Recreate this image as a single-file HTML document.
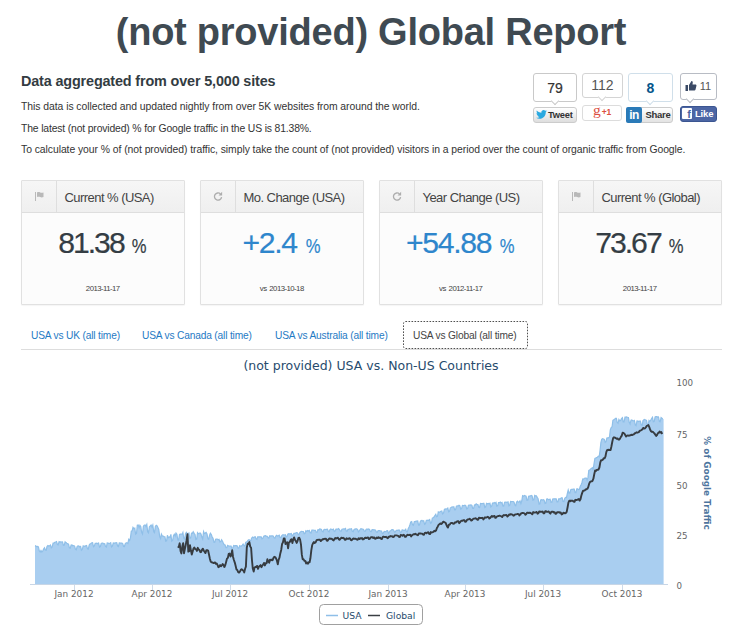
<!DOCTYPE html>
<html><head><meta charset="utf-8"><title>(not provided) Global Report</title>
<style>
*{box-sizing:border-box;margin:0;padding:0}
html,body{width:738px;height:634px;background:#fff;overflow:hidden}
body{position:relative;font-family:"Liberation Sans",Arial,sans-serif;color:#333}
.abs{position:absolute}
h1{position:absolute;left:0;width:742px;top:5px;text-align:center;font-size:38px;font-weight:bold;color:#3f4a52;letter-spacing:-0.24px;line-height:54px;white-space:nowrap}
h2{position:absolute;left:21px;top:71px;font-size:14.4px;font-weight:bold;color:#333c42;line-height:20px;letter-spacing:-0.15px;white-space:nowrap}
p{position:absolute;left:21px;font-size:10.4px;line-height:14px;color:#333;white-space:nowrap;letter-spacing:-0.05px}
.cnt{position:absolute;border:1px solid #c9c9c9;border-radius:3px;background:#fff;text-align:center;color:#333}
.nub{position:absolute;width:6px;height:6px;background:#fff;border-right:1px solid #c9c9c9;border-bottom:1px solid #c9c9c9;transform:rotate(45deg)}
.btn{position:absolute;border-radius:3px;white-space:nowrap}
.card{position:absolute;top:179.5px;width:163.5px;height:125px;border:1px solid #e1e1e1;box-shadow:0 1px 1px rgba(0,0,0,0.04);background:#fcfcfc;border-radius:1px}
.card .hd{position:absolute;left:0;top:0;right:0;height:32px;background:linear-gradient(#f6f6f6,#efefef);border-bottom:1px solid #dedede}
.card .ic{position:absolute;left:0;top:0;width:35px;height:31px;border-right:1px solid #dedede}
.card .tt{position:absolute;left:42.5px;top:9.5px;font-size:13px;color:#444;white-space:nowrap;line-height:16px;letter-spacing:-0.55px}
.card .num{position:absolute;left:0;right:0;top:44px;text-align:center;font-size:30.2px;line-height:36px;color:#343d44;letter-spacing:-2px;-webkit-text-stroke:0.2px currentColor;white-space:nowrap}
.card .num small{font-size:20.5px;letter-spacing:0;display:inline-block;transform:scaleX(0.81);transform-origin:50% 50%;margin-left:0px;margin-right:-1px}
.card .num.b{color:#2e86cc;letter-spacing:-1.3px}
.card .dt{position:absolute;left:0;right:0;top:103.3px;text-align:center;font-size:7.8px;color:#444;line-height:10px;letter-spacing:-0.55px}
.tab{position:absolute;top:328.5px;font-size:10.2px;color:#1f7ac4;line-height:14px;white-space:nowrap;letter-spacing:-0.17px}
</style></head><body>
<h1>(not provided) Global Report</h1>
<h2>Data aggregated from over 5,000 sites</h2>
<p style="top:100px">This data is collected and updated nightly from over 5K websites from around the world.</p>
<p style="top:121.5px;letter-spacing:-0.16px">The latest (not provided) % for Google traffic in the US is 81.38%.</p>
<p style="top:142.5px;letter-spacing:-0.06px">To calculate your % of (not provided) traffic, simply take the count of (not provided) visitors in a period over the count of organic traffic from Google.</p>

<!-- social -->
<div class="cnt" style="left:533px;top:73px;width:44px;height:29px;font-size:14px;line-height:28px;-webkit-text-stroke:0.2px #333">79</div>
<div class="nub" style="left:552px;top:98px"></div>
<div class="btn" style="left:533px;top:107px;width:44px;height:16px;border:1px solid #ccc;background:linear-gradient(#fff,#dedede);font-size:9.3px;font-weight:bold;color:#333;line-height:14.5px;padding-left:14px;letter-spacing:-0.2px">Tweet</div>
<svg class="abs" style="left:536px;top:110px" width="11" height="9" viewBox="0 0 24 20"><path fill="#2aa9e0" d="M24 2.4c-.9.4-1.8.7-2.8.8 1-.6 1.800-1.600 2.200-2.700-1 .6-2 1-3.100 1.200C19.400.7 18.100 0 16.600 0c-2.700 0-4.900 2.200-4.900 4.900 0 .4 0 .8.100 1.100C7.700 5.800 4.100 3.800 1.700.9 1.200 1.600 1 2.500 1 3.400c0 1.700.9 3.200 2.200 4.100-.8 0-1.600-.2-2.200-.6v.1c0 2.400 1.700 4.400 3.900 4.800-.4.100-.8.200-1.300.2-.3 0-.6 0-.9-.1.600 2 2.400 3.400 4.600 3.400-1.700 1.300-3.800 2.100-6.100 2.100-.4 0-.8 0-1.200-.1 2.200 1.400 4.800 2.200 7.500 2.200 9.100 0 14-7.500 14-14v-.6c1-.7 1.800-1.600 2.500-2.500z"/></svg>

<div class="cnt" style="left:582px;top:73px;width:41px;height:25px;font-size:14px;line-height:23px;color:#555;border-color:#d4d4d4">112</div>
<div class="nub" style="left:599px;top:94px;border-color:#d4d4d4"></div>
<div class="btn" style="left:582px;top:105px;width:40px;height:16px;border:1px solid #dcdcdc;background:#fff;color:#dc4e41;line-height:13px;text-align:center;white-space:nowrap;overflow:hidden"><span style="font-family:'Liberation Serif',serif;font-size:15.5px;line-height:11px;position:relative;top:-3px">g</span><span style="font-size:8.500px;font-weight:bold;position:relative;top:-3px;margin-left:1px;letter-spacing:-0.2px">+1</span></div>

<div class="cnt" style="left:628px;top:73px;width:45px;height:29px;font-size:14px;line-height:28px;color:#04558b;font-weight:bold;border-color:#d0dfea">8</div>
<div class="nub" style="left:647px;top:98px;border-color:#d0dfea"></div>
<div class="btn" style="left:626px;top:107px;width:47px;height:16px;border:1px solid #ccc;background:linear-gradient(#fff,#e3e3e3);font-size:9.5px;font-weight:bold;color:#333;line-height:14.5px;padding-left:18.5px;letter-spacing:-0.3px">Share</div>
<div class="abs" style="left:626px;top:107px;width:16px;height:16px;background:#2a7ab8;border-radius:2px;color:#fff;font-weight:bold;font-size:12px;line-height:16px;text-align:center;letter-spacing:-0.5px">in</div>

<div class="cnt" style="left:680px;top:73px;width:37px;height:27px;font-size:11px;line-height:24px;color:#555;border-color:#b8bcc4;padding-left:14px">11</div>
<div class="nub" style="left:687px;top:96px;border-color:#b8bcc4"></div>
<svg class="abs" style="left:684.500px;top:79.500px" width="12" height="12" viewBox="0 0 24 24"><path fill="#3b4a66" d="M1 10h5v12H1zM8 21V10l5-8c1.500 0 2.800 1.200 2.500 3L15 9h6c1.300 0 2.200 1.200 1.900 2.500l-2 8c-.3.900-1 1.500-2 1.500H8z"/></svg>
<div class="btn" style="left:680px;top:106px;width:37px;height:16px;background:#4c66a4;border:1px solid #3b5591;font-size:9.5px;font-weight:bold;color:#fff;line-height:14px;padding-left:14px;letter-spacing:-0.2px">Like</div>
<div class="abs" style="left:682px;top:108px;width:10px;height:11px;background:#fff;border-radius:1px;color:#4c66a4;font-weight:bold;font-size:11px;line-height:13px;text-align:right;padding-right:1px;overflow:hidden">f</div>

<!-- cards -->
<div class="card" style="left:21px"><div class="hd"><div class="ic"><svg class="abs" style="left:13px;top:11.5px" width="9" height="9" viewBox="0 0 9 9"><path fill="#b9b9b9" d="M0 0h1v9H0zM2 0.500c1.200-.6 2.200-.4 3.200 0s2 .5 3.300-.1v4.600c-1.300.6-2.300.5-3.300.1s-2-.6-3.200 0z"/></svg></div><div class="tt">Current % (USA)</div></div><div class="num">81.38 <small>%</small></div><div class="dt">2013-11-17</div></div>
<div class="card" style="left:200px"><div class="hd"><div class="ic"><svg class="abs" style="left:12px;top:10px" width="10" height="11" viewBox="0 0 18 20"><path fill="none" stroke="#adadad" stroke-width="2.400" d="M15.500 11a6.500 6.500 0 1 1-2-5.700"/><path fill="#adadad" d="M16.500 1.500v6.500h-6.500z"/></svg></div><div class="tt">Mo. Change (USA)</div></div><div class="num b">+2.4 <small>%</small></div><div class="dt" style="word-spacing:1.2px">vs 2013-10-18</div></div>
<div class="card" style="left:379px"><div class="hd"><div class="ic"><svg class="abs" style="left:12px;top:10px" width="10" height="11" viewBox="0 0 18 20"><path fill="none" stroke="#adadad" stroke-width="2.400" d="M15.500 11a6.500 6.500 0 1 1-2-5.700"/><path fill="#adadad" d="M16.500 1.500v6.500h-6.500z"/></svg></div><div class="tt">Year Change (US)</div></div><div class="num b">+54.88 <small>%</small></div><div class="dt" style="word-spacing:1.2px">vs 2012-11-17</div></div>
<div class="card" style="left:558px"><div class="hd"><div class="ic"><svg class="abs" style="left:13px;top:11.5px" width="9" height="9" viewBox="0 0 9 9"><path fill="#b9b9b9" d="M0 0h1v9H0zM2 0.500c1.200-.6 2.200-.4 3.200 0s2 .5 3.300-.1v4.600c-1.300.6-2.300.5-3.300.1s-2-.6-3.200 0z"/></svg></div><div class="tt">Current % (Global)</div></div><div class="num">73.67 <small>%</small></div><div class="dt">2013-11-17</div></div>

<!-- tabs -->
<div class="tab" style="left:31px">USA vs UK (all time)</div>
<div class="tab" style="left:142px">USA vs Canada (all time)</div>
<div class="tab" style="left:275px">USA vs Australia (all time)</div>
<div class="abs" style="left:21px;top:349px;width:701px;height:1px;background:#ddd"></div>
<svg class="abs" style="left:403px;top:321px" width="125" height="28"><rect x="0.500" y="0.500" width="124" height="27" rx="2" fill="#fff" stroke="#505050" stroke-dasharray="1.600 1.400"/></svg>
<div class="tab" style="left:413px;color:#444">USA vs Global (all time)</div>

<!-- chart -->
<svg class="abs" style="left:0;top:350px" width="738" height="284" viewBox="0 350 738 284" font-family='"DejaVu Sans","Liberation Sans",sans-serif'>
<path d="M35.0 545.6 L35.9 546.0 L36.7 546.7 L37.6 546.5 L38.4 546.9 L39.3 551.0 L40.2 552.0 L41.0 550.5 L41.9 552.0 L42.7 551.2 L43.6 549.0 L44.5 547.8 L45.3 549.9 L46.2 550.2 L47.0 546.5 L47.9 545.5 L48.8 546.1 L49.6 545.7 L50.5 545.0 L51.3 547.8 L52.2 547.0 L53.1 543.1 L53.9 543.2 L54.8 542.3 L55.6 542.0 L56.5 541.6 L57.4 544.5 L58.2 544.9 L59.1 541.7 L59.9 542.1 L60.8 541.8 L61.7 542.0 L62.5 541.9 L63.4 545.4 L64.2 545.3 L65.1 541.8 L66.0 542.6 L66.8 543.2 L67.7 543.7 L68.5 544.2 L69.4 547.8 L70.3 548.2 L71.1 545.1 L72.0 545.0 L72.8 545.8 L73.7 545.6 L74.6 546.1 L75.4 549.1 L76.3 549.8 L77.1 546.5 L78.0 545.8 L78.9 546.1 L79.7 547.0 L80.6 546.5 L81.4 550.2 L82.3 549.5 L83.2 545.8 L84.0 546.2 L84.9 546.3 L85.7 545.7 L86.6 545.4 L87.5 548.8 L88.3 549.2 L89.2 545.1 L90.0 543.9 L90.9 543.5 L91.8 542.9 L92.6 542.7 L93.5 546.8 L94.3 546.2 L95.2 543.4 L96.1 543.3 L96.9 543.1 L97.8 543.7 L98.6 543.1 L99.5 547.0 L100.4 546.5 L101.2 543.5 L102.1 543.2 L102.9 543.2 L103.8 543.9 L104.7 543.7 L105.5 546.4 L106.4 547.0 L107.2 542.9 L108.1 543.1 L109.0 543.5 L109.8 543.3 L110.7 542.7 L111.5 546.9 L112.4 546.1 L113.3 542.9 L114.1 543.4 L115.0 542.9 L115.8 542.9 L116.7 542.7 L117.6 546.0 L118.4 546.5 L119.3 542.8 L120.1 543.2 L121.0 543.0 L121.9 543.1 L122.7 543.6 L123.6 546.4 L124.4 546.5 L125.3 543.5 L126.2 542.8 L127.0 542.8 L127.9 543.5 L128.7 539.3 L129.6 540.4 L130.5 537.6 L131.3 531.1 L132.2 530.7 L133.0 527.4 L133.9 528.6 L134.8 528.1 L135.6 534.2 L136.5 533.5 L137.3 525.3 L138.2 525.0 L139.1 527.6 L139.9 525.3 L140.8 526.7 L141.6 532.3 L142.5 534.0 L143.4 526.2 L144.2 525.2 L145.1 524.9 L145.9 526.4 L146.8 524.4 L147.7 531.9 L148.5 532.9 L149.4 526.7 L150.2 526.0 L151.1 525.1 L152.0 527.1 L152.8 525.1 L153.7 531.7 L154.5 532.6 L155.4 526.2 L156.3 525.2 L157.1 525.8 L158.0 527.7 L158.8 529.6 L159.7 536.6 L160.6 538.5 L161.4 534.1 L162.3 536.0 L163.1 536.1 L164.0 536.6 L164.9 536.7 L165.7 541.1 L166.6 540.8 L167.4 535.3 L168.3 537.7 L169.2 536.9 L170.0 537.4 L170.9 534.4 L171.7 541.2 L172.6 540.5 L173.5 535.7 L174.3 534.2 L175.2 536.0 L176.0 533.1 L176.9 534.3 L177.8 540.0 L178.6 540.3 L179.5 534.4 L180.3 534.1 L181.2 534.2 L182.1 534.4 L182.9 532.5 L183.8 538.6 L184.6 539.1 L185.5 533.7 L186.4 532.4 L187.2 533.5 L188.1 533.8 L188.9 533.0 L189.8 538.5 L190.7 537.8 L191.5 533.1 L192.4 533.3 L193.2 531.7 L194.1 533.4 L195.0 534.5 L195.8 539.5 L196.7 539.0 L197.5 532.7 L198.4 533.8 L199.3 533.3 L200.1 532.9 L201.0 534.1 L201.8 537.1 L202.7 539.1 L203.6 531.6 L204.4 533.4 L205.3 533.1 L206.1 532.5 L207.0 534.0 L207.9 538.9 L208.7 539.4 L209.6 535.2 L210.4 533.3 L211.3 534.5 L212.2 537.0 L213.0 538.2 L213.9 542.2 L214.7 542.3 L215.6 539.3 L216.5 539.2 L217.3 539.1 L218.2 539.7 L219.0 539.3 L219.9 542.0 L220.8 541.6 L221.6 539.8 L222.5 541.2 L223.3 543.0 L224.2 544.7 L225.1 544.9 L225.9 547.6 L226.8 547.6 L227.6 545.4 L228.5 545.9 L229.4 546.2 L230.2 546.2 L231.1 546.1 L231.9 548.6 L232.8 547.9 L233.7 545.6 L234.5 545.9 L235.4 545.7 L236.2 545.6 L237.1 545.8 L238.0 548.2 L238.8 548.1 L239.7 545.7 L240.5 546.2 L241.4 546.1 L242.3 545.1 L243.1 544.1 L244.0 545.8 L244.8 546.1 L245.7 542.2 L246.6 542.0 L247.4 541.1 L248.3 539.9 L249.1 539.6 L250.0 540.6 L250.9 540.3 L251.7 538.0 L252.6 537.1 L253.4 537.7 L254.3 537.0 L255.2 536.8 L256.0 538.8 L256.9 539.3 L257.7 536.8 L258.6 536.9 L259.5 536.8 L260.3 536.9 L261.2 536.9 L262.0 538.8 L262.9 538.2 L263.8 536.3 L264.6 535.9 L265.5 535.7 L266.3 536.1 L267.2 536.3 L268.1 537.9 L268.9 538.0 L269.8 535.8 L270.6 536.1 L271.5 535.9 L272.4 535.9 L273.2 536.0 L274.1 537.8 L274.9 538.2 L275.8 536.0 L276.7 535.2 L277.5 536.0 L278.4 535.7 L279.2 535.1 L280.1 537.5 L281.0 537.6 L281.8 535.5 L282.7 534.8 L283.5 534.8 L284.4 535.0 L285.3 534.8 L286.1 537.0 L287.0 536.3 L287.8 534.2 L288.7 533.6 L289.6 533.9 L290.4 533.9 L291.3 533.6 L292.1 535.7 L293.0 535.0 L293.9 533.4 L294.7 533.3 L295.6 533.2 L296.4 532.6 L297.3 532.7 L298.2 534.2 L299.0 534.7 L299.9 532.3 L300.7 531.7 L301.6 531.3 L302.5 531.5 L303.3 531.5 L304.2 533.8 L305.0 533.5 L305.9 530.7 L306.8 531.4 L307.6 530.5 L308.5 531.1 L309.3 530.4 L310.2 532.7 L311.1 533.0 L311.9 530.1 L312.8 530.0 L313.6 530.2 L314.5 530.3 L315.4 530.3 L316.2 532.3 L317.1 532.4 L317.9 529.7 L318.8 530.0 L319.7 529.0 L320.5 529.1 L321.4 529.4 L322.2 531.3 L323.1 531.8 L324.0 529.5 L324.8 529.3 L325.7 529.6 L326.5 529.3 L327.4 529.1 L328.3 531.3 L329.1 531.8 L330.0 529.6 L330.8 528.9 L331.7 529.5 L332.6 529.6 L333.4 529.2 L334.3 531.4 L335.1 531.0 L336.0 529.1 L336.9 529.1 L337.7 529.2 L338.6 528.6 L339.4 529.5 L340.3 531.2 L341.2 531.1 L342.0 529.3 L342.9 529.0 L343.7 528.9 L344.6 529.1 L345.5 528.5 L346.3 531.2 L347.2 531.1 L348.0 529.4 L348.9 529.4 L349.8 528.8 L350.6 529.0 L351.5 528.7 L352.3 531.2 L353.2 531.6 L354.1 529.5 L354.9 529.1 L355.8 528.9 L356.6 528.8 L357.5 529.3 L358.4 531.8 L359.2 531.0 L360.1 529.5 L360.9 528.7 L361.8 528.9 L362.7 529.0 L363.5 529.5 L364.4 531.3 L365.2 531.4 L366.1 529.4 L367.0 528.9 L367.8 529.6 L368.7 529.0 L369.5 529.4 L370.4 531.4 L371.3 531.5 L372.1 529.7 L373.0 529.7 L373.8 529.8 L374.7 529.9 L375.6 530.2 L376.4 532.1 L377.3 532.3 L378.1 530.6 L379.0 530.7 L379.9 530.7 L380.7 531.2 L381.6 531.1 L382.4 533.6 L383.3 533.1 L384.2 531.5 L385.0 531.7 L385.9 531.6 L386.7 530.8 L387.6 530.7 L388.5 533.3 L389.3 532.4 L390.2 530.8 L391.0 530.5 L391.9 529.6 L392.8 529.7 L393.6 530.2 L394.5 532.0 L395.3 531.9 L396.2 530.5 L397.1 530.1 L397.9 530.6 L398.8 529.9 L399.6 530.3 L400.5 532.7 L401.4 531.9 L402.2 529.8 L403.1 530.2 L403.9 530.3 L404.8 530.3 L405.7 529.3 L406.5 531.8 L407.4 531.9 L408.2 528.8 L409.1 527.0 L410.0 524.5 L410.8 522.0 L411.7 521.6 L412.5 524.9 L413.4 525.4 L414.3 521.7 L415.1 521.7 L416.0 521.2 L416.8 521.1 L417.7 521.0 L418.6 525.1 L419.4 525.2 L420.3 521.5 L421.1 520.6 L422.0 520.4 L422.9 521.2 L423.7 520.7 L424.6 524.4 L425.4 523.9 L426.3 520.4 L427.2 520.4 L428.0 520.2 L428.9 520.3 L429.7 519.6 L430.6 523.4 L431.5 522.9 L432.3 518.2 L433.2 517.8 L434.0 517.0 L434.9 515.6 L435.8 514.3 L436.6 516.7 L437.5 516.3 L438.3 511.9 L439.2 512.3 L440.1 511.8 L440.9 511.3 L441.8 511.0 L442.6 513.9 L443.5 513.2 L444.4 509.5 L445.2 509.0 L446.1 509.2 L446.9 508.8 L447.8 508.0 L448.7 511.9 L449.5 511.4 L450.4 507.7 L451.2 507.5 L452.1 506.8 L453.0 507.0 L453.8 506.8 L454.7 509.9 L455.5 509.8 L456.4 506.2 L457.3 505.8 L458.1 506.1 L459.0 505.3 L459.8 505.6 L460.7 509.1 L461.6 508.6 L462.4 505.4 L463.3 505.6 L464.1 505.6 L465.0 505.1 L465.9 505.8 L466.7 508.9 L467.6 508.6 L468.4 505.3 L469.3 505.2 L470.2 505.1 L471.0 504.8 L471.9 505.4 L472.7 508.4 L473.6 508.4 L474.5 504.9 L475.3 505.0 L476.2 503.9 L477.0 504.5 L477.9 504.5 L478.8 507.4 L479.6 507.5 L480.5 503.5 L481.3 503.6 L482.2 503.7 L483.1 503.3 L483.9 503.4 L484.8 507.5 L485.6 507.1 L486.5 503.4 L487.4 503.8 L488.2 503.4 L489.1 503.8 L489.9 503.3 L490.8 507.0 L491.7 506.2 L492.5 503.1 L493.4 503.2 L494.2 502.5 L495.1 503.3 L496.0 502.5 L496.8 506.2 L497.7 505.9 L498.5 502.6 L499.4 502.7 L500.3 502.1 L501.1 502.9 L502.0 502.4 L502.8 505.9 L503.7 506.0 L504.6 502.2 L505.4 502.1 L506.3 502.4 L507.1 502.2 L508.0 501.9 L508.9 505.8 L509.7 505.4 L510.6 501.5 L511.4 501.7 L512.3 501.5 L513.2 501.5 L514.0 502.1 L514.9 505.2 L515.7 505.7 L516.6 502.0 L517.5 501.2 L518.3 502.1 L519.2 502.0 L520.0 500.8 L520.9 503.6 L521.8 500.8 L522.6 495.8 L523.5 496.3 L524.3 495.5 L525.2 495.8 L526.1 496.2 L526.9 500.4 L527.8 500.2 L528.6 496.3 L529.5 496.1 L530.4 495.9 L531.2 495.4 L532.1 495.9 L532.9 500.2 L533.8 499.9 L534.7 495.4 L535.5 495.8 L536.4 495.9 L537.2 497.4 L538.1 498.8 L539.0 504.1 L539.8 503.9 L540.7 500.0 L541.5 499.7 L542.4 500.0 L543.3 499.7 L544.1 500.1 L545.0 503.5 L545.8 503.2 L546.7 499.1 L547.6 498.9 L548.4 499.6 L549.3 499.4 L550.1 499.2 L551.0 502.4 L551.9 502.2 L552.7 499.0 L553.6 498.9 L554.4 498.8 L555.3 498.8 L556.2 498.9 L557.0 501.8 L557.9 501.8 L558.7 498.9 L559.6 498.8 L560.5 498.7 L561.3 497.8 L562.2 497.8 L563.0 501.5 L563.9 501.6 L564.8 498.2 L565.6 497.4 L566.5 497.6 L567.3 493.6 L568.2 490.0 L569.1 493.2 L569.9 493.0 L570.8 489.6 L571.6 489.3 L572.5 489.3 L573.4 489.0 L574.2 489.1 L575.1 492.7 L575.9 492.7 L576.8 488.9 L577.7 488.9 L578.5 489.5 L579.4 489.3 L580.2 486.4 L581.1 484.7 L582.0 482.5 L582.8 478.9 L583.7 479.1 L584.5 478.2 L585.4 478.1 L586.3 478.1 L587.1 480.1 L588.0 477.4 L588.8 470.4 L589.7 470.0 L590.6 469.0 L591.4 468.5 L592.3 467.7 L593.1 470.2 L594.0 463.8 L594.9 458.4 L595.7 458.2 L596.6 457.6 L597.4 457.2 L598.3 456.2 L599.2 456.7 L600.0 450.8 L600.9 442.6 L601.7 439.3 L602.6 438.7 L603.5 439.0 L604.3 439.4 L605.2 442.4 L606.0 441.6 L606.9 438.0 L607.8 437.8 L608.6 437.8 L609.5 437.0 L610.3 429.8 L611.2 427.5 L612.1 426.7 L612.9 420.3 L613.8 419.7 L614.6 419.3 L615.5 418.4 L616.4 418.3 L617.2 422.5 L618.1 423.4 L618.9 419.5 L619.8 420.9 L620.7 420.3 L621.5 418.7 L622.4 417.8 L623.2 421.9 L624.1 421.9 L625.0 417.1 L625.8 417.1 L626.7 416.9 L627.5 417.2 L628.4 417.5 L629.3 422.5 L630.1 424.0 L631.0 420.2 L631.8 420.0 L632.7 420.7 L633.6 420.9 L634.4 420.4 L635.3 425.1 L636.1 425.7 L637.0 421.0 L637.9 421.1 L638.7 421.6 L639.6 421.2 L640.4 421.2 L641.3 425.1 L642.2 425.4 L643.0 420.6 L643.9 419.7 L644.7 419.5 L645.6 420.0 L646.5 420.3 L647.3 424.6 L648.2 425.5 L649.0 420.5 L649.9 421.4 L650.8 420.2 L651.6 418.5 L652.5 417.2 L653.3 421.8 L654.2 421.5 L655.1 416.9 L655.9 416.6 L656.8 416.5 L657.6 417.1 L658.5 416.9 L659.4 421.5 L660.2 421.7 L661.1 417.6 L661.9 418.2 L662.8 419.0 L663.6 419.0 L663.6 584 L35 584 Z" fill="#a9cef0"/>
<path d="M35.0 545.6 L35.9 546.0 L36.7 546.7 L37.6 546.5 L38.4 546.9 L39.3 551.0 L40.2 552.0 L41.0 550.5 L41.9 552.0 L42.7 551.2 L43.6 549.0 L44.5 547.8 L45.3 549.9 L46.2 550.2 L47.0 546.5 L47.9 545.5 L48.8 546.1 L49.6 545.7 L50.5 545.0 L51.3 547.8 L52.2 547.0 L53.1 543.1 L53.9 543.2 L54.8 542.3 L55.6 542.0 L56.5 541.6 L57.4 544.5 L58.2 544.9 L59.1 541.7 L59.9 542.1 L60.8 541.8 L61.7 542.0 L62.5 541.9 L63.4 545.4 L64.2 545.3 L65.1 541.8 L66.0 542.6 L66.8 543.2 L67.7 543.7 L68.5 544.2 L69.4 547.8 L70.3 548.2 L71.1 545.1 L72.0 545.0 L72.8 545.8 L73.7 545.6 L74.6 546.1 L75.4 549.1 L76.3 549.8 L77.1 546.5 L78.0 545.8 L78.9 546.1 L79.7 547.0 L80.6 546.5 L81.4 550.2 L82.3 549.5 L83.2 545.8 L84.0 546.2 L84.9 546.3 L85.7 545.7 L86.6 545.4 L87.5 548.8 L88.3 549.2 L89.2 545.1 L90.0 543.9 L90.9 543.5 L91.8 542.9 L92.6 542.7 L93.5 546.8 L94.3 546.2 L95.2 543.4 L96.1 543.3 L96.9 543.1 L97.8 543.7 L98.6 543.1 L99.5 547.0 L100.4 546.5 L101.2 543.5 L102.1 543.2 L102.9 543.2 L103.8 543.9 L104.7 543.7 L105.5 546.4 L106.4 547.0 L107.2 542.9 L108.1 543.1 L109.0 543.5 L109.8 543.3 L110.7 542.7 L111.5 546.9 L112.4 546.1 L113.3 542.9 L114.1 543.4 L115.0 542.9 L115.8 542.9 L116.7 542.7 L117.6 546.0 L118.4 546.5 L119.3 542.8 L120.1 543.2 L121.0 543.0 L121.9 543.1 L122.7 543.6 L123.6 546.4 L124.4 546.5 L125.3 543.5 L126.2 542.8 L127.0 542.8 L127.9 543.5 L128.7 539.3 L129.6 540.4 L130.5 537.6 L131.3 531.1 L132.2 530.7 L133.0 527.4 L133.9 528.6 L134.8 528.1 L135.6 534.2 L136.5 533.5 L137.3 525.3 L138.2 525.0 L139.1 527.6 L139.9 525.3 L140.8 526.7 L141.6 532.3 L142.5 534.0 L143.4 526.2 L144.2 525.2 L145.1 524.9 L145.9 526.4 L146.8 524.4 L147.7 531.9 L148.5 532.9 L149.4 526.7 L150.2 526.0 L151.1 525.1 L152.0 527.1 L152.8 525.1 L153.7 531.7 L154.5 532.6 L155.4 526.2 L156.3 525.2 L157.1 525.8 L158.0 527.7 L158.8 529.6 L159.7 536.6 L160.6 538.5 L161.4 534.1 L162.3 536.0 L163.1 536.1 L164.0 536.6 L164.9 536.7 L165.7 541.1 L166.6 540.8 L167.4 535.3 L168.3 537.7 L169.2 536.9 L170.0 537.4 L170.9 534.4 L171.7 541.2 L172.6 540.5 L173.5 535.7 L174.3 534.2 L175.2 536.0 L176.0 533.1 L176.9 534.3 L177.8 540.0 L178.6 540.3 L179.5 534.4 L180.3 534.1 L181.2 534.2 L182.1 534.4 L182.9 532.5 L183.8 538.6 L184.6 539.1 L185.5 533.7 L186.4 532.4 L187.2 533.5 L188.1 533.8 L188.9 533.0 L189.8 538.5 L190.7 537.8 L191.5 533.1 L192.4 533.3 L193.2 531.7 L194.1 533.4 L195.0 534.5 L195.8 539.5 L196.7 539.0 L197.5 532.7 L198.4 533.8 L199.3 533.3 L200.1 532.9 L201.0 534.1 L201.8 537.1 L202.7 539.1 L203.6 531.6 L204.4 533.4 L205.3 533.1 L206.1 532.5 L207.0 534.0 L207.9 538.9 L208.7 539.4 L209.6 535.2 L210.4 533.3 L211.3 534.5 L212.2 537.0 L213.0 538.2 L213.9 542.2 L214.7 542.3 L215.6 539.3 L216.5 539.2 L217.3 539.1 L218.2 539.7 L219.0 539.3 L219.9 542.0 L220.8 541.6 L221.6 539.8 L222.5 541.2 L223.3 543.0 L224.2 544.7 L225.1 544.9 L225.9 547.6 L226.8 547.6 L227.6 545.4 L228.5 545.9 L229.4 546.2 L230.2 546.2 L231.1 546.1 L231.9 548.6 L232.8 547.9 L233.7 545.6 L234.5 545.9 L235.4 545.7 L236.2 545.6 L237.1 545.8 L238.0 548.2 L238.8 548.1 L239.7 545.7 L240.5 546.2 L241.4 546.1 L242.3 545.1 L243.1 544.1 L244.0 545.8 L244.8 546.1 L245.7 542.2 L246.6 542.0 L247.4 541.1 L248.3 539.9 L249.1 539.6 L250.0 540.6 L250.9 540.3 L251.7 538.0 L252.6 537.1 L253.4 537.7 L254.3 537.0 L255.2 536.8 L256.0 538.8 L256.9 539.3 L257.7 536.8 L258.6 536.9 L259.5 536.8 L260.3 536.9 L261.2 536.9 L262.0 538.8 L262.9 538.2 L263.8 536.3 L264.6 535.9 L265.5 535.7 L266.3 536.1 L267.2 536.3 L268.1 537.9 L268.9 538.0 L269.8 535.8 L270.6 536.1 L271.5 535.9 L272.4 535.9 L273.2 536.0 L274.1 537.8 L274.9 538.2 L275.8 536.0 L276.7 535.2 L277.5 536.0 L278.4 535.7 L279.2 535.1 L280.1 537.5 L281.0 537.6 L281.8 535.5 L282.7 534.8 L283.5 534.8 L284.4 535.0 L285.3 534.8 L286.1 537.0 L287.0 536.3 L287.8 534.2 L288.7 533.6 L289.6 533.9 L290.4 533.9 L291.3 533.6 L292.1 535.7 L293.0 535.0 L293.9 533.4 L294.7 533.3 L295.6 533.2 L296.4 532.6 L297.3 532.7 L298.2 534.2 L299.0 534.7 L299.9 532.3 L300.7 531.7 L301.6 531.3 L302.5 531.5 L303.3 531.5 L304.2 533.8 L305.0 533.5 L305.9 530.7 L306.8 531.4 L307.6 530.5 L308.5 531.1 L309.3 530.4 L310.2 532.7 L311.1 533.0 L311.9 530.1 L312.8 530.0 L313.6 530.2 L314.5 530.3 L315.4 530.3 L316.2 532.3 L317.1 532.4 L317.9 529.7 L318.8 530.0 L319.7 529.0 L320.5 529.1 L321.4 529.4 L322.2 531.3 L323.1 531.8 L324.0 529.5 L324.8 529.3 L325.7 529.6 L326.5 529.3 L327.4 529.1 L328.3 531.3 L329.1 531.8 L330.0 529.6 L330.8 528.9 L331.7 529.5 L332.6 529.6 L333.4 529.2 L334.3 531.4 L335.1 531.0 L336.0 529.1 L336.9 529.1 L337.7 529.2 L338.6 528.6 L339.4 529.5 L340.3 531.2 L341.2 531.1 L342.0 529.3 L342.9 529.0 L343.7 528.9 L344.6 529.1 L345.5 528.5 L346.3 531.2 L347.2 531.1 L348.0 529.4 L348.9 529.4 L349.8 528.8 L350.6 529.0 L351.5 528.7 L352.3 531.2 L353.2 531.6 L354.1 529.5 L354.9 529.1 L355.8 528.9 L356.6 528.8 L357.5 529.3 L358.4 531.8 L359.2 531.0 L360.1 529.5 L360.9 528.7 L361.8 528.9 L362.7 529.0 L363.5 529.5 L364.4 531.3 L365.2 531.4 L366.1 529.4 L367.0 528.9 L367.8 529.6 L368.7 529.0 L369.5 529.4 L370.4 531.4 L371.3 531.5 L372.1 529.7 L373.0 529.7 L373.8 529.8 L374.7 529.9 L375.6 530.2 L376.4 532.1 L377.3 532.3 L378.1 530.6 L379.0 530.7 L379.9 530.7 L380.7 531.2 L381.6 531.1 L382.4 533.6 L383.3 533.1 L384.2 531.5 L385.0 531.7 L385.9 531.6 L386.7 530.8 L387.6 530.7 L388.5 533.3 L389.3 532.4 L390.2 530.8 L391.0 530.5 L391.9 529.6 L392.8 529.7 L393.6 530.2 L394.5 532.0 L395.3 531.9 L396.2 530.5 L397.1 530.1 L397.9 530.6 L398.8 529.9 L399.6 530.3 L400.5 532.7 L401.4 531.9 L402.2 529.8 L403.1 530.2 L403.9 530.3 L404.8 530.3 L405.7 529.3 L406.5 531.8 L407.4 531.9 L408.2 528.8 L409.1 527.0 L410.0 524.5 L410.8 522.0 L411.7 521.6 L412.5 524.9 L413.4 525.4 L414.3 521.7 L415.1 521.7 L416.0 521.2 L416.8 521.1 L417.7 521.0 L418.6 525.1 L419.4 525.2 L420.3 521.5 L421.1 520.6 L422.0 520.4 L422.9 521.2 L423.7 520.7 L424.6 524.4 L425.4 523.9 L426.3 520.4 L427.2 520.4 L428.0 520.2 L428.9 520.3 L429.7 519.6 L430.6 523.4 L431.5 522.9 L432.3 518.2 L433.2 517.8 L434.0 517.0 L434.9 515.6 L435.8 514.3 L436.6 516.7 L437.5 516.3 L438.3 511.9 L439.2 512.3 L440.1 511.8 L440.9 511.3 L441.8 511.0 L442.6 513.9 L443.5 513.2 L444.4 509.5 L445.2 509.0 L446.1 509.2 L446.9 508.8 L447.8 508.0 L448.7 511.9 L449.5 511.4 L450.4 507.7 L451.2 507.5 L452.1 506.8 L453.0 507.0 L453.8 506.8 L454.7 509.9 L455.5 509.8 L456.4 506.2 L457.3 505.8 L458.1 506.1 L459.0 505.3 L459.8 505.6 L460.7 509.1 L461.6 508.6 L462.4 505.4 L463.3 505.6 L464.1 505.6 L465.0 505.1 L465.9 505.8 L466.7 508.9 L467.6 508.6 L468.4 505.3 L469.3 505.2 L470.2 505.1 L471.0 504.8 L471.9 505.4 L472.7 508.4 L473.6 508.4 L474.5 504.9 L475.3 505.0 L476.2 503.9 L477.0 504.5 L477.9 504.5 L478.8 507.4 L479.6 507.5 L480.5 503.5 L481.3 503.6 L482.2 503.7 L483.1 503.3 L483.9 503.4 L484.8 507.5 L485.6 507.1 L486.5 503.4 L487.4 503.8 L488.2 503.4 L489.1 503.8 L489.9 503.3 L490.8 507.0 L491.7 506.2 L492.5 503.1 L493.4 503.2 L494.2 502.5 L495.1 503.3 L496.0 502.5 L496.8 506.2 L497.7 505.9 L498.5 502.6 L499.4 502.7 L500.3 502.1 L501.1 502.9 L502.0 502.4 L502.8 505.9 L503.7 506.0 L504.6 502.2 L505.4 502.1 L506.3 502.4 L507.1 502.2 L508.0 501.9 L508.9 505.8 L509.7 505.4 L510.6 501.5 L511.4 501.7 L512.3 501.5 L513.2 501.5 L514.0 502.1 L514.9 505.2 L515.7 505.7 L516.6 502.0 L517.5 501.2 L518.3 502.1 L519.2 502.0 L520.0 500.8 L520.9 503.6 L521.8 500.8 L522.6 495.8 L523.5 496.3 L524.3 495.5 L525.2 495.8 L526.1 496.2 L526.9 500.4 L527.8 500.2 L528.6 496.3 L529.5 496.1 L530.4 495.9 L531.2 495.4 L532.1 495.9 L532.9 500.2 L533.8 499.9 L534.7 495.4 L535.5 495.8 L536.4 495.9 L537.2 497.4 L538.1 498.8 L539.0 504.1 L539.8 503.9 L540.7 500.0 L541.5 499.7 L542.4 500.0 L543.3 499.7 L544.1 500.1 L545.0 503.5 L545.8 503.2 L546.7 499.1 L547.6 498.9 L548.4 499.6 L549.3 499.4 L550.1 499.2 L551.0 502.4 L551.9 502.2 L552.7 499.0 L553.6 498.9 L554.4 498.8 L555.3 498.8 L556.2 498.9 L557.0 501.8 L557.9 501.8 L558.7 498.9 L559.6 498.8 L560.5 498.7 L561.3 497.8 L562.2 497.8 L563.0 501.5 L563.9 501.6 L564.8 498.2 L565.6 497.4 L566.5 497.6 L567.3 493.6 L568.2 490.0 L569.1 493.2 L569.9 493.0 L570.8 489.6 L571.6 489.3 L572.5 489.3 L573.4 489.0 L574.2 489.1 L575.1 492.7 L575.9 492.7 L576.8 488.9 L577.7 488.9 L578.5 489.5 L579.4 489.3 L580.2 486.4 L581.1 484.7 L582.0 482.5 L582.8 478.9 L583.7 479.1 L584.5 478.2 L585.4 478.1 L586.3 478.1 L587.1 480.1 L588.0 477.4 L588.8 470.4 L589.7 470.0 L590.6 469.0 L591.4 468.5 L592.3 467.7 L593.1 470.2 L594.0 463.8 L594.9 458.4 L595.7 458.2 L596.6 457.6 L597.4 457.2 L598.3 456.2 L599.2 456.7 L600.0 450.8 L600.9 442.6 L601.7 439.3 L602.6 438.7 L603.5 439.0 L604.3 439.4 L605.2 442.4 L606.0 441.6 L606.9 438.0 L607.8 437.8 L608.6 437.8 L609.5 437.0 L610.3 429.8 L611.2 427.5 L612.1 426.7 L612.9 420.3 L613.8 419.7 L614.6 419.3 L615.5 418.4 L616.4 418.3 L617.2 422.5 L618.1 423.4 L618.9 419.5 L619.8 420.9 L620.7 420.3 L621.5 418.7 L622.4 417.8 L623.2 421.9 L624.1 421.9 L625.0 417.1 L625.8 417.1 L626.7 416.9 L627.5 417.2 L628.4 417.5 L629.3 422.5 L630.1 424.0 L631.0 420.2 L631.8 420.0 L632.7 420.7 L633.6 420.9 L634.4 420.4 L635.3 425.1 L636.1 425.7 L637.0 421.0 L637.9 421.1 L638.7 421.6 L639.6 421.2 L640.4 421.2 L641.3 425.1 L642.2 425.4 L643.0 420.6 L643.9 419.7 L644.7 419.5 L645.6 420.0 L646.5 420.3 L647.3 424.6 L648.2 425.5 L649.0 420.5 L649.9 421.4 L650.8 420.2 L651.6 418.5 L652.5 417.2 L653.3 421.8 L654.2 421.5 L655.1 416.9 L655.9 416.6 L656.8 416.5 L657.6 417.1 L658.5 416.9 L659.4 421.5 L660.2 421.7 L661.1 417.6 L661.9 418.2 L662.8 419.0" fill="none" stroke="#8fbfe8" stroke-width="1.2"/>
<path d="M178.0 547.7 L178.9 546.4 L179.7 543.3 L180.6 551.2 L181.4 553.4 L182.3 546.6 L183.2 543.1 L184.0 553.3 L184.9 548.9 L185.7 545.1 L186.6 540.2 L187.5 534.2 L188.3 551.6 L189.2 551.2 L190.0 545.1 L190.9 550.3 L191.8 554.5 L192.6 551.8 L193.5 548.6 L194.3 547.5 L195.2 549.0 L196.1 549.3 L196.9 550.9 L197.8 547.8 L198.6 549.4 L199.5 550.1 L200.4 552.2 L201.2 552.0 L202.1 549.7 L202.9 548.7 L203.8 550.7 L204.7 551.9 L205.5 553.1 L206.4 550.1 L207.2 550.1 L208.1 550.5 L209.0 554.5 L209.8 558.4 L210.7 561.6 L211.5 562.3 L212.4 562.4 L213.3 563.0 L214.1 563.0 L215.0 562.4 L215.8 563.8 L216.7 563.4 L217.6 565.2 L218.4 567.2 L219.3 566.7 L220.1 565.1 L221.0 566.2 L221.9 565.4 L222.7 564.0 L223.6 565.2 L224.4 567.0 L225.3 565.0 L226.2 561.7 L227.0 558.6 L227.9 557.8 L228.7 553.9 L229.6 553.5 L230.5 556.5 L231.3 555.5 L232.2 550.2 L233.0 556.7 L233.9 560.0 L234.8 562.6 L235.6 565.8 L236.5 569.4 L237.3 570.0 L238.2 572.1 L239.1 572.6 L239.9 571.7 L240.8 569.8 L241.6 569.2 L242.5 570.0 L243.4 570.6 L244.2 572.4 L245.1 568.8 L245.9 566.6 L246.8 547.5 L247.7 543.6 L248.5 544.0 L249.4 542.1 L250.2 546.5 L251.1 547.7 L252.0 560.5 L252.8 568.6 L253.7 571.6 L254.5 567.7 L255.4 566.8 L256.3 567.1 L257.1 565.9 L258.0 568.9 L258.8 566.8 L259.7 566.1 L260.6 565.1 L261.4 567.2 L262.3 565.6 L263.1 564.7 L264.0 562.9 L264.9 565.4 L265.7 563.2 L266.6 563.3 L267.4 559.3 L268.3 561.7 L269.2 562.7 L270.0 559.6 L270.9 560.2 L271.7 559.6 L272.6 560.2 L273.5 557.8 L274.3 556.8 L275.2 557.1 L276.0 558.3 L276.9 560.5 L277.8 564.4 L278.6 559.8 L279.5 557.7 L280.3 553.4 L281.2 550.0 L282.1 543.9 L282.9 542.5 L283.8 538.5 L284.6 538.4 L285.5 544.0 L286.4 543.1 L287.2 542.2 L288.1 548.4 L288.9 542.5 L289.8 542.0 L290.7 540.0 L291.5 539.2 L292.4 543.0 L293.2 539.7 L294.1 537.4 L295.0 539.9 L295.8 541.0 L296.7 542.9 L297.5 541.2 L298.4 538.0 L299.3 537.8 L300.1 539.6 L301.0 544.6 L301.8 554.4 L302.7 559.3 L303.6 559.3 L304.4 560.9 L305.3 560.9 L306.1 563.5 L307.0 562.4 L307.9 563.7 L308.7 562.3 L309.6 562.4 L310.4 558.3 L311.3 550.3 L312.2 545.1 L313.0 543.4 L313.9 542.1 L314.7 543.0 L315.6 542.5 L316.5 540.4 L317.3 539.9 L318.2 539.8 L319.0 539.6 L319.9 539.8 L320.8 541.1 L321.6 540.4 L322.5 539.2 L323.3 539.4 L324.2 538.9 L325.1 538.8 L325.9 538.6 L326.8 540.5 L327.6 540.8 L328.5 539.3 L329.4 538.4 L330.2 538.9 L331.1 538.6 L331.9 538.8 L332.8 539.9 L333.7 540.4 L334.5 539.0 L335.4 538.0 L336.2 538.6 L337.1 537.9 L338.0 537.8 L338.8 539.4 L339.7 539.8 L340.5 538.6 L341.4 537.8 L342.3 538.0 L343.1 537.8 L344.0 538.3 L344.8 539.7 L345.7 539.7 L346.6 538.2 L347.4 538.8 L348.3 538.9 L349.1 538.3 L350.0 538.5 L350.9 540.1 L351.7 540.3 L352.6 539.1 L353.4 538.5 L354.3 538.8 L355.2 538.6 L356.0 538.9 L356.9 539.6 L357.7 539.7 L358.6 538.2 L359.5 539.0 L360.3 538.3 L361.2 538.5 L362.0 538.0 L362.9 539.5 L363.8 539.1 L364.6 538.2 L365.5 537.7 L366.3 538.1 L367.2 537.7 L368.1 537.5 L368.9 539.1 L369.8 538.9 L370.6 537.4 L371.5 537.2 L372.4 537.2 L373.2 538.0 L374.1 537.4 L374.9 538.6 L375.8 538.7 L376.7 537.6 L377.5 538.1 L378.4 537.3 L379.2 538.0 L380.1 537.6 L381.0 538.8 L381.8 539.0 L382.7 537.1 L383.5 536.6 L384.4 537.0 L385.3 537.0 L386.1 536.8 L387.0 537.7 L387.8 538.3 L388.7 536.7 L389.6 536.7 L390.4 536.0 L391.3 536.4 L392.1 536.2 L393.0 537.0 L393.9 536.8 L394.7 535.5 L395.6 535.4 L396.4 535.4 L397.3 535.6 L398.2 535.9 L399.0 536.9 L399.9 537.0 L400.7 535.0 L401.6 535.2 L402.5 535.8 L403.3 534.8 L404.2 535.2 L405.0 536.8 L405.9 536.7 L406.8 535.2 L407.6 534.7 L408.5 535.1 L409.3 535.0 L410.2 534.8 L411.1 536.4 L411.9 535.4 L412.8 534.8 L413.6 534.1 L414.5 534.4 L415.4 533.8 L416.2 534.4 L417.1 534.8 L417.9 535.3 L418.8 533.4 L419.7 533.5 L420.5 533.4 L421.4 533.6 L422.2 533.7 L423.1 534.5 L424.0 534.7 L424.8 532.9 L425.7 532.7 L426.5 533.3 L427.4 532.6 L428.3 532.2 L429.1 533.8 L430.0 534.1 L430.8 532.1 L431.7 532.5 L432.6 532.2 L433.4 531.9 L434.3 530.7 L435.1 531.3 L436.0 530.6 L436.9 528.0 L437.7 526.7 L438.6 524.8 L439.4 524.2 L440.3 523.4 L441.2 524.0 L442.0 523.4 L442.9 522.1 L443.7 521.6 L444.6 522.4 L445.5 522.7 L446.3 524.5 L447.2 526.6 L448.0 527.5 L448.9 524.8 L449.8 524.6 L450.6 523.1 L451.5 522.9 L452.3 523.0 L453.2 523.7 L454.1 523.6 L454.9 522.4 L455.8 522.5 L456.6 521.7 L457.5 521.3 L458.4 521.3 L459.2 523.2 L460.1 522.1 L460.9 521.0 L461.8 520.6 L462.7 520.7 L463.5 520.1 L464.4 520.3 L465.2 521.8 L466.1 521.6 L467.0 519.8 L467.8 519.5 L468.7 519.4 L469.5 518.8 L470.4 519.4 L471.3 520.6 L472.1 520.2 L473.0 519.0 L473.8 518.6 L474.7 518.5 L475.6 518.3 L476.4 518.6 L477.3 519.8 L478.1 519.7 L479.0 517.7 L479.9 518.2 L480.7 517.9 L481.6 518.0 L482.4 517.8 L483.3 519.4 L484.2 518.5 L485.0 517.3 L485.9 517.7 L486.7 517.3 L487.6 516.8 L488.5 517.1 L489.3 518.6 L490.2 517.9 L491.0 516.9 L491.9 516.0 L492.8 516.8 L493.6 516.2 L494.5 515.9 L495.3 517.8 L496.2 517.5 L497.1 516.3 L497.9 516.1 L498.8 516.0 L499.6 515.6 L500.5 516.0 L501.4 516.4 L502.2 517.1 L503.1 515.5 L503.9 515.0 L504.8 515.4 L505.7 515.0 L506.5 515.0 L507.4 516.6 L508.2 515.9 L509.1 514.5 L510.0 514.7 L510.8 514.1 L511.7 514.5 L512.5 514.6 L513.4 515.7 L514.3 515.3 L515.1 514.4 L516.0 514.4 L516.8 514.2 L517.7 513.9 L518.6 514.1 L519.4 515.4 L520.3 514.6 L521.1 513.4 L522.0 513.0 L522.9 512.9 L523.7 513.1 L524.6 513.5 L525.4 514.8 L526.3 514.0 L527.2 512.6 L528.0 512.7 L528.9 513.1 L529.7 512.7 L530.6 513.0 L531.5 513.5 L532.3 514.3 L533.2 512.1 L534.0 512.5 L534.9 512.6 L535.8 512.4 L536.6 511.9 L537.5 513.7 L538.3 513.4 L539.2 511.5 L540.1 511.8 L540.9 511.7 L541.8 511.9 L542.6 511.5 L543.5 513.2 L544.4 513.2 L545.2 511.3 L546.1 511.3 L546.9 511.9 L547.8 511.7 L548.7 511.4 L549.5 512.8 L550.4 513.7 L551.2 512.0 L552.1 511.8 L553.0 511.7 L553.8 512.5 L554.7 512.3 L555.5 513.8 L556.4 513.5 L557.3 512.1 L558.1 512.3 L559.0 512.1 L559.8 512.7 L560.7 512.5 L561.6 514.4 L562.4 514.1 L563.3 512.8 L564.1 512.9 L565.0 513.4 L565.9 512.9 L566.7 511.9 L567.6 507.2 L568.4 502.6 L569.3 500.7 L570.2 501.2 L571.0 500.5 L571.9 500.9 L572.7 500.6 L573.6 501.6 L574.5 501.9 L575.3 499.8 L576.2 500.1 L577.0 499.8 L577.9 499.5 L578.8 499.0 L579.6 500.6 L580.5 499.3 L581.3 495.7 L582.2 492.9 L583.1 490.6 L583.9 490.7 L584.8 490.3 L585.6 489.5 L586.5 489.3 L587.4 488.7 L588.2 487.2 L589.1 483.9 L589.9 482.1 L590.8 481.5 L591.7 481.4 L592.5 480.9 L593.4 478.7 L594.2 474.5 L595.1 470.5 L596.0 471.0 L596.8 469.9 L597.7 469.8 L598.5 469.5 L599.4 467.5 L600.3 462.3 L601.1 460.2 L602.0 460.2 L602.8 459.7 L603.7 458.2 L604.6 458.3 L605.4 456.7 L606.3 452.1 L607.1 450.2 L608.0 449.8 L608.9 450.0 L609.7 449.8 L610.6 450.0 L611.4 446.5 L612.3 441.7 L613.2 437.9 L614.0 437.3 L614.9 437.6 L615.7 438.1 L616.6 438.8 L617.5 438.4 L618.3 439.5 L619.2 439.6 L620.0 438.6 L620.9 436.9 L621.8 435.6 L622.6 432.7 L623.5 433.0 L624.3 433.5 L625.2 435.0 L626.1 436.5 L626.9 435.6 L627.8 435.5 L628.6 435.7 L629.5 435.5 L630.4 435.4 L631.2 434.7 L632.1 435.1 L632.9 434.7 L633.8 434.4 L634.7 433.3 L635.5 433.2 L636.4 432.3 L637.2 432.7 L638.1 432.4 L639.0 431.9 L639.8 430.6 L640.7 430.5 L641.5 430.0 L642.4 429.2 L643.3 427.9 L644.1 428.6 L645.0 428.3 L645.8 427.4 L646.7 425.9 L647.6 425.6 L648.4 425.1 L649.3 427.1 L650.1 429.5 L651.0 431.2 L651.9 431.9 L652.7 431.7 L653.6 432.6 L654.4 433.4 L655.3 434.6 L656.2 435.9 L657.0 435.1 L657.9 433.2 L658.7 432.9 L659.6 431.6 L660.5 432.6 L661.3 432.1 L662.2 434.0" fill="none" stroke="#373c41" stroke-width="1.9" stroke-linejoin="round"/>
<path d="M30 584.5H668" stroke="#c8d6e6" stroke-width="1"/>
<g stroke="#cfdbe9" stroke-width="1"><path d="M74.500 585v5M152.500 585v5M230.500 585v5M309.500 585v5M388.500 585v5M465.500 585v5M543.500 585v5M622.500 585v5"/></g>
<text x="371" y="370" text-anchor="middle" font-size="12.500" fill="#274b6d">(not provided) USA vs. Non-US Countries</text>
<g font-size="8.900" fill="#666" text-anchor="middle">
<text x="74" y="597">Jan 2012</text><text x="152" y="597">Apr 2012</text><text x="230" y="597">Jul 2012</text><text x="309" y="597">Oct 2012</text>
<text x="388" y="597">Jan 2013</text><text x="465" y="597">Apr 2013</text><text x="543" y="597">Jul 2013</text><text x="622" y="597">Oct 2013</text></g>
<g font-size="8.700" fill="#666">
<text x="676.500" y="386">100</text><text x="676.500" y="437.500">75</text><text x="676.500" y="488.500">50</text><text x="676.500" y="538.500">25</text><text x="676.500" y="589">0</text></g>
<text transform="translate(703.500,483) rotate(90)" text-anchor="middle" font-size="8.850" font-weight="bold" fill="#4d759e">% of Google Traffic</text>
<rect x="319.500" y="604.500" width="103" height="20" rx="4" fill="#fff" stroke="#a0a0a0"/>
<path d="M326 615.500H338" stroke="#8fbfe8" stroke-width="1.500"/><text x="342.500" y="619" font-size="9.200" fill="#274b6d">USA</text>
<path d="M368 615.500H380" stroke="#3a3f44" stroke-width="1.500"/><text x="386" y="619" font-size="9.200" fill="#274b6d">Global</text>
</svg>
</body></html>
